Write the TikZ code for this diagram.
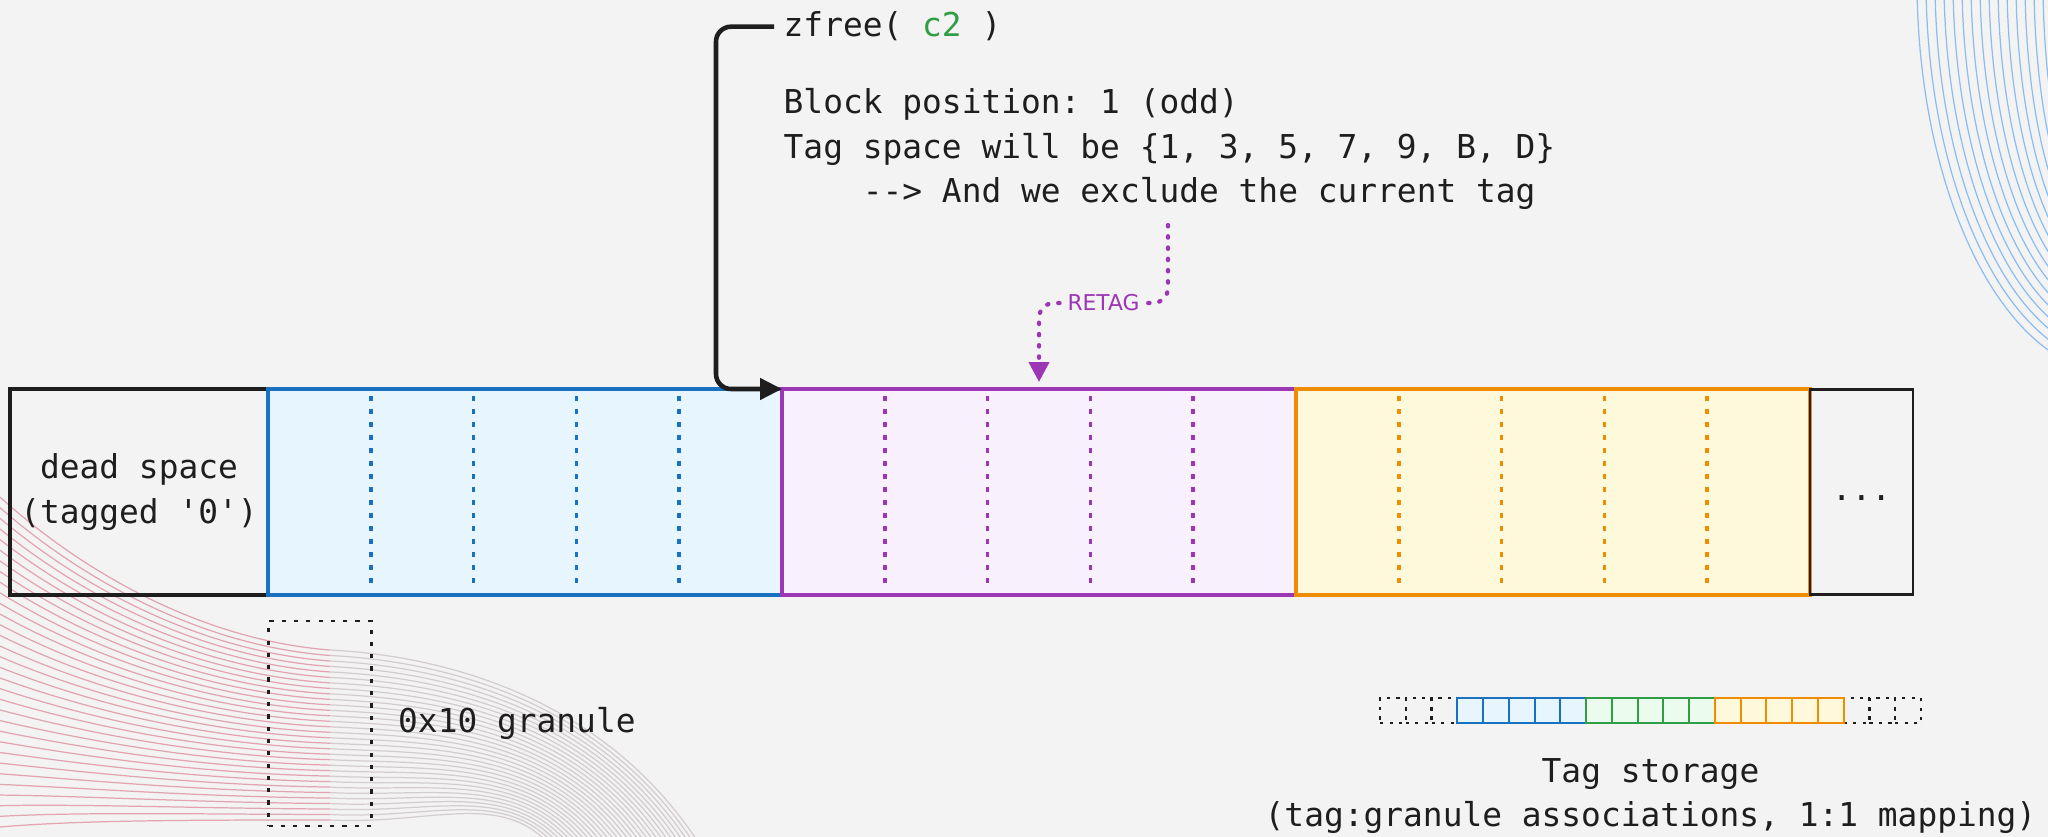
\documentclass[tikz,border=0pt]{standalone}
\usepackage{fontspec}
\setmonofont{DejaVu Sans Mono}
\newfontfamily\notefont{DejaVu Sans}
\usetikzlibrary{arrows.meta,positioning,calc}

\definecolor{paper}{HTML}{F3F3F3}
\definecolor{ink}{HTML}{1E1E1E}
\definecolor{blueline}{HTML}{1971C2}
\definecolor{bluefill}{HTML}{E7F5FF}
\definecolor{violetline}{HTML}{9C36B5}
\definecolor{violetfill}{HTML}{F8F0FC}
\definecolor{orangeline}{HTML}{F08C00}
\definecolor{orangefill}{HTML}{FFF9DB}
\definecolor{greenline}{HTML}{2F9E44}
\definecolor{greenfill}{HTML}{EBFBEE}
\definecolor{pinkwave}{HTML}{E2A4B1}
\definecolor{greywave}{HTML}{D4CDCF}
\definecolor{bluewave}{HTML}{8CBDF0}

\tikzset{
  codetext/.style={font=\ttfamily\fontsize{9.35}{12.6}\selectfont, text=ink, inner sep=0pt},
  memblock/.style={draw, line width=1.4pt, minimum height=2.06cm, outer sep=0pt, inner sep=0pt},
  granuleline/.style={line width=1pt, dash pattern=on 1.5pt off 2.2pt, shorten <=0.07cm, shorten >=0.07cm},
  tagcell/.style={draw, line width=0.6pt, minimum width=0.2576cm, minimum height=0.25cm, outer sep=0pt, inner sep=0pt},
  sparecell/.style={tagcell, draw=ink, dash pattern=on 0.9pt off 1.8pt},
  callarrow/.style={draw=ink, line width=1.3pt, rounded corners=0.15cm, -{Triangle[length=0.22cm,width=0.21cm]}},
  retagarrow/.style={draw=violetline, line width=1.2pt, line cap=round, dash pattern=on 0.4pt off 2.8pt,
    rounded corners=0.15cm, -{Triangle[length=0.2cm,width=0.2cm]}},
  retaglabel/.style={font=\notefont\fontsize{6.2}{7}\selectfont, text=violetline, fill=paper, inner sep=0.05cm},
}

\begin{document}
\begin{tikzpicture}
	\useasboundingbox (0,0) rectangle (20.48,-8.37);
	\fill[paper] (0,0) rectangle (20.48,-8.37);

	\begin{scope}
		\clip (0,0) rectangle (20.48,-8.37);
		\foreach \i in {0,...,31} {
			\pgfmathsetmacro{\s}{\i/31}
			\draw[pinkwave, line width=0.35pt] (0,{-4.97-3.3*\s}) .. controls (0.8,{-5.7-2.5*\s}) and (2.0,{-6.4-1.8*\s}) .. (3.3,{-6.5-1.7*\s});
			\draw[greywave, line width=0.35pt] (3.3,{-6.5-1.7*\s}) .. controls (4.3,{-6.55-1.7*\s}) and ({6.0-\s},{-6.9-\s}) .. ({7.0-1.5*\s},-8.45);
		}
		\foreach \i in {0,...,14}
			\draw[bluewave, line width=0.35pt] ({21.17-2.0+0.09*\i},0.2)
				arc[start angle=180, end angle=270, x radius={2.0-0.09*\i}, y radius={3.94-0.09*\i}];
	\end{scope}

	\node (dead) [memblock, draw=ink, minimum width=2.58cm, codetext, align=center] at (1.39,-4.92) {dead space\\(tagged '0')};
	\node (chunk1) [memblock, draw=blueline, fill=bluefill, minimum width=5.14cm] at (5.25,-4.92) {};
	\node (chunk2) [memblock, draw=violetline, fill=violetfill, minimum width=5.14cm] at (10.39,-4.92) {};
	\node (chunk3) [memblock, draw=orangeline, fill=orangefill, minimum width=5.14cm] at (15.53,-4.92) {};
	\node (rest) [memblock, draw=ink, line width=0.8pt, minimum width=1.03cm, minimum height=2.05cm, codetext] at (18.615,-4.92) {\strut...};

	\foreach \c/\col in {chunk1/blueline, chunk2/violetline, chunk3/orangeline}
		\foreach \k in {1,...,4}
			\draw[granuleline, \col] ([xshift=\k*1.028cm]\c.north west) -- ([xshift=\k*1.028cm]\c.south west);

	\node (zfree) [codetext, inner sep=0.09cm, anchor=base west] at (7.74,-0.37) {zfree( \textcolor{greenline}{c2} )};
	\node (note) [codetext, anchor=north west, align=left] at (7.83,-0.88)
		{Block position: 1 (odd)\\Tag space will be \{1, 3, 5, 7, 9, B, D\}\\\phantom{----}--> And we exclude the current tag};

	\coordinate (turn) at (7.16,-3.89);
	\draw[callarrow] (zfree.west) -| (turn) -- (chunk2.north west);

	\coordinate (retag) at (11.68,-2.25);
	\draw[retagarrow] (retag) -- ++(0,-0.78) -| node[pos=0.25, retaglabel] {RETAG} ([yshift=0.07cm]chunk2.north);

	\node (granule) [draw=ink, line width=0.8pt, dash pattern=on 1.2pt off 2.3pt, minimum width=1.03cm, minimum height=2.05cm, outer sep=0pt] at (3.20,-7.235) {};
	\node (granlabel) [codetext, right=0.26cm of granule] {0x10 granule};

	\begin{scope}[every node/.style={tagcell}]
		\foreach \i in {0,1,2,18,19,20}
			\node (cell\i) [sparecell] at ({13.929+0.2576*\i},-7.105) {};
		\foreach \i in {3,...,7}
			\node (cell\i) [draw=blueline, fill=bluefill] at ({13.929+0.2576*\i},-7.105) {};
		\foreach \i in {8,...,12}
			\node (cell\i) [draw=greenline, fill=greenfill] at ({13.929+0.2576*\i},-7.105) {};
		\foreach \i in {13,...,17}
			\node (cell\i) [draw=orangeline, fill=orangefill] at ({13.929+0.2576*\i},-7.105) {};
	\end{scope}
	\node (storage) [codetext, align=center, below=0.35cm of cell10] {Tag storage\\(tag:granule associations, 1:1 mapping)};
\end{tikzpicture}
\end{document}
